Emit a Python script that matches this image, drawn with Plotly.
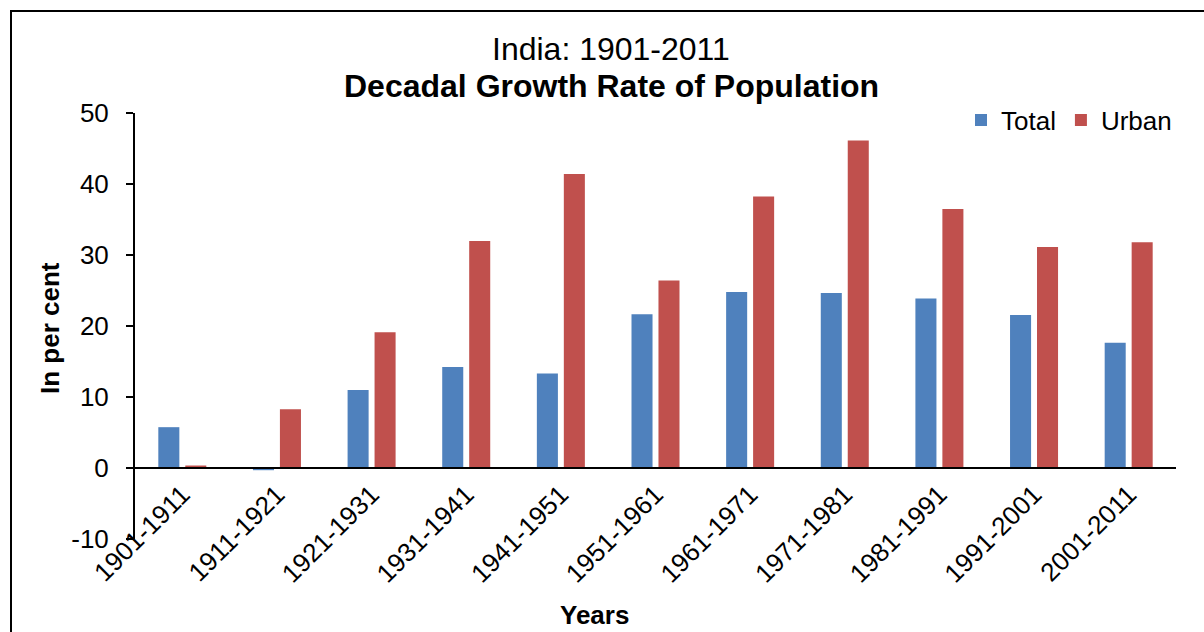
import plotly.graph_objects as go

# ---- data ----
categories = ["1901-1911", "1911-1921", "1921-1931", "1931-1941", "1941-1951",
              "1951-1961", "1961-1971", "1971-1981", "1981-1991", "1991-2001",
              "2001-2011"]
total = [5.75, -0.31, 11.00, 14.22, 13.31, 21.64, 24.80, 24.66, 23.87, 21.54, 17.64]
urban = [0.35, 8.27, 19.12, 31.97, 41.42, 26.41, 38.23, 46.14, 36.47, 31.13, 31.80]
y_ticks = [-10, 0, 10, 20, 30, 40, 50]
y_tick_labels = ["-10", "0", "10", "20", "30", "40", "50"]

FONT = "Liberation Sans, Arial, Helvetica, sans-serif"
W, H = 1204, 632
L, R, T, B = 135, 28, 113, 93
PW, PH = W - L - R, H - T - B


def px_x(px):
    return (px - L) / PW


def px_y(py):
    return (H - B - py) / PH


fig = go.Figure()
fig.add_trace(go.Bar(name="Total", x=categories, y=total,
                     marker=dict(color="#4F81BD", line=dict(width=0))))
fig.add_trace(go.Bar(name="Urban", x=categories, y=urban,
                     marker=dict(color="#C0504D", line=dict(width=0))))

fig.update_layout(
    width=W, height=H,
    margin=dict(l=L, r=R, t=T, b=B, autoexpand=False),
    paper_bgcolor="white", plot_bgcolor="white",
    barmode="group", bargap=0.43, bargroupgap=0.22,
    font=dict(family=FONT, size=26, color="black"),
    showlegend=True,
    legend=dict(orientation="h", x=px_x(961), xanchor="left",
                y=px_y(120), yanchor="middle", font=dict(size=26),
                bgcolor="rgba(0,0,0,0)", borderwidth=0),
    xaxis=dict(type="category", anchor="free", position=px_y(468),
               showline=True, linecolor="black", linewidth=2,
               ticks="", tickangle=-45, showgrid=False, zeroline=False,
               tickfont=dict(size=26, family=FONT, color="black")),
    yaxis=dict(range=[-10, 50], tickvals=y_ticks, ticktext=y_tick_labels,
               showline=True, linecolor="black", linewidth=2,
               ticks="outside", ticklen=7, tickwidth=2, tickcolor="black",
               showgrid=False, zeroline=False, ticklabelstandoff=12,
               tickfont=dict(size=26, family=FONT, color="black")),
    shapes=[dict(type="rect", xref="paper", yref="paper",
                 x0=px_x(11), x1=px_x(1260), y0=px_y(700), y1=px_y(11),
                 line=dict(color="black", width=2), fillcolor="rgba(0,0,0,0)",
                 layer="below")],
    annotations=[
        dict(text="India: 1901-2011", xref="paper", yref="paper",
             x=px_x(611), y=px_y(49), xanchor="center", yanchor="middle",
             showarrow=False, font=dict(size=32, family=FONT, color="black")),
        dict(text="<b>Decadal Growth Rate of Population</b>", xref="paper",
             yref="paper", x=px_x(611), y=px_y(86), xanchor="center",
             yanchor="middle", showarrow=False,
             font=dict(size=32, family=FONT, color="black")),
        dict(text="<b>In per cent</b>", xref="paper", yref="paper",
             x=px_x(50), y=px_y(328), xanchor="center", yanchor="middle",
             textangle=-90, showarrow=False,
             font=dict(size=26, family=FONT, color="black")),
        dict(text="<b>Years</b>", xref="paper", yref="paper",
             x=px_x(594), y=px_y(615), xanchor="center", yanchor="middle",
             showarrow=False, font=dict(size=26, family=FONT, color="black")),
    ],
)

fig.write_html("out.html")
